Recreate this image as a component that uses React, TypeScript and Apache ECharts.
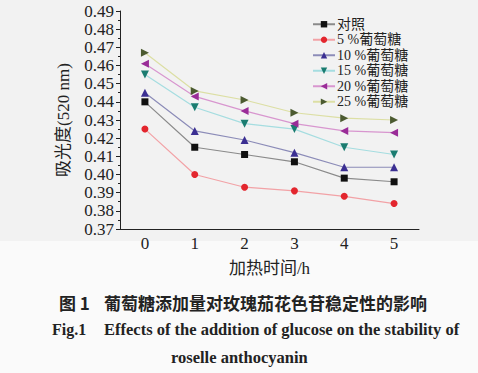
import React, { useEffect, useRef } from "react";
import * as echarts from "echarts";

const hours = ["0", "1", "2", "3", "4", "5"];
const seriesNames = ["对照", "5 %葡萄糖", "10 %葡萄糖", "15 %葡萄糖", "20 %葡萄糖", "25 %葡萄糖"];
const control = [0.44, 0.415, 0.411, 0.407, 0.398, 0.396];
const glucose5 = [0.425, 0.4, 0.393, 0.391, 0.388, 0.384];
const glucose10 = [0.445, 0.424, 0.419, 0.412, 0.404, 0.404];
const glucose15 = [0.455, 0.437, 0.428, 0.425, 0.415, 0.411];
const glucose20 = [0.461, 0.443, 0.435, 0.428, 0.424, 0.423];
const glucose25 = [0.467, 0.446, 0.441, 0.434, 0.431, 0.43];
const yTicks = { min: 0.37, max: 0.49, step: 0.01 };

const markerColors = ["#111111", "#e3262e", "#3b2f92", "#1a7c70", "#9a2c98", "#4b5a30"];
const lineColors = ["#8a8a8a", "#f2a2a6", "#8c8cb8", "#a5dde0", "#d896cf", "#dcdfa4"];
const symbols = ["rect", "circle", "triangle", "triangle", "triangle", "triangle"];
const rotations = [0, 0, 0, 180, 90, -90];
const symbolSizes = [7, 7, 8, 8, 8, 8];

const SERIF = "'Liberation Serif', 'Noto Sans CJK SC', serif";

export default function App() {
  const ref = useRef<HTMLDivElement>(null);
  useEffect(() => {
    if (!ref.current) return;
    const chart = echarts.init(ref.current, undefined, { renderer: "svg" });
    const all = [control, glucose5, glucose10, glucose15, glucose20, glucose25];
    chart.setOption({
      animation: false,
      backgroundColor: "#fafafa",
      graphic: [
        { type: "rect", z: -10, shape: { x: 0, y: 0, width: 478, height: 241 }, style: { fill: "#f2f2f2" } },
        {
          type: "text", left: 59, top: 294,
          style: { text: "图 1", font: "bold 17px 'Noto Sans CJK SC'", fill: "#222" },
        },
        {
          type: "text", left: 104, top: 294,
          style: { text: "葡萄糖添加量对玫瑰茄花色苷稳定性的影响", font: "bold 17px 'Noto Sans CJK SC'", fill: "#222" },
        },
        {
          type: "text", left: 52, top: 321,
          style: { text: "Fig.1", font: "bold 16px 'Liberation Serif'", fill: "#222" },
        },
        {
          type: "text", left: 104, top: 321,
          style: { text: "Effects of the addition of glucose on the stability of", font: "bold 16.5px 'Liberation Serif'", fill: "#222" },
        },
        {
          type: "text", left: 171, top: 349,
          style: { text: "roselle anthocyanin", font: "bold 16.5px 'Liberation Serif'", fill: "#222" },
        },
      ],
      grid: { left: 120, right: 59, top: 11, bottom: 144 },
      legend: {
        orient: "vertical",
        left: 307,
        top: 12,
        itemWidth: 22,
        itemHeight: 8,
        itemGap: 1,
        data: seriesNames,
        textStyle: { fontFamily: SERIF, fontSize: 14, color: "#222", lineHeight: 14.5, padding: [0, 0, 0, -3] },
      },
      xAxis: [
        {
          type: "category",
          data: hours,
          boundaryGap: true,
          name: "加热时间/h",
          nameLocation: "middle",
          nameGap: 31,
          nameTextStyle: { fontFamily: SERIF, fontSize: 17, color: "#222" },
          axisLine: { lineStyle: { color: "#222", width: 1 } },
          axisTick: { alignWithLabel: true, length: 4, lineStyle: { color: "#222" } },
          axisLabel: { fontFamily: SERIF, fontSize: 17, color: "#222", margin: 6 },
          splitLine: { show: false },
        },
        {
          type: "category",
          data: hours,
          boundaryGap: true,
          position: "bottom",
          axisLine: { show: false },
          axisTick: { inside: true, length: 3, lineStyle: { color: "#222" } },
          axisLabel: { show: false },
          splitLine: { show: false },
        },
      ],
      yAxis: {
        type: "value",
        min: yTicks.min,
        max: yTicks.max,
        interval: yTicks.step,
        name: "吸光度(520 nm)",
        nameLocation: "middle",
        nameGap: 48,
        nameTextStyle: { fontFamily: SERIF, fontSize: 17, color: "#222" },
        axisLine: { show: true, lineStyle: { color: "#222", width: 1 } },
        axisTick: { show: true, length: 4, lineStyle: { color: "#222" } },
        minorTick: { show: true, splitNumber: 2, length: 2, lineStyle: { color: "#222" } },
        axisLabel: {
          fontFamily: SERIF, fontSize: 17, color: "#222", margin: 6,
          formatter: (v: number) => v.toFixed(2),
        },
        splitLine: { show: false },
      },
      series: all.map((d, i) => ({
        name: seriesNames[i],
        type: "line",
        data: d,
        symbol: symbols[i],
        symbolSize: symbolSizes[i],
        symbolRotate: rotations[i],
        showAllSymbol: true,
        lineStyle: { color: lineColors[i], width: 1.2 },
        itemStyle: { color: markerColors[i] },
      })),
    });
    return () => chart.dispose();
  }, []);
  return (
    <div
      ref={ref}
      style={{ position: "fixed", left: 0, top: 0, width: 478, height: 373 }}
    />
  );
}
